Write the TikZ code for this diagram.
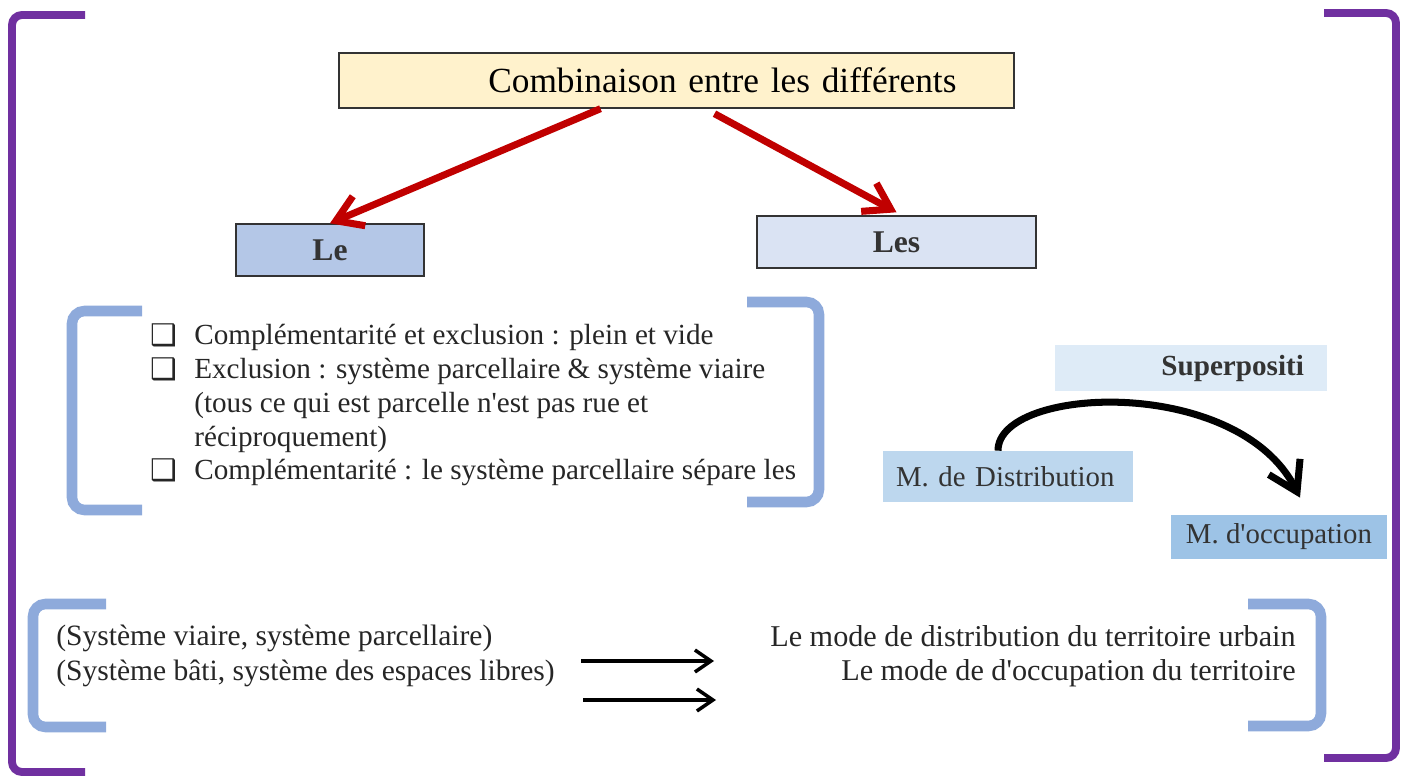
\documentclass[tikz,border=0pt]{standalone}
\usepackage{fontspec}
\setmainfont{Liberation Serif}[Ligatures=TeXOff]
\newfontfamily\symfont{DejaVu Sans}
\usetikzlibrary{arrows.meta,positioning,calc}
\definecolor{brakpurple}{HTML}{7030A0}
\definecolor{brakblue}{HTML}{8EAADB}
\definecolor{arrred}{HTML}{C00000}
\definecolor{topyellow}{HTML}{FFF2CC}
\definecolor{leblue}{HTML}{B4C7E7}
\definecolor{lesblue}{HTML}{DAE3F3}
\definecolor{supblue}{HTML}{DEEBF7}
\definecolor{distblue}{HTML}{BDD7EE}
\definecolor{occblue}{HTML}{9DC3E6}
\newcommand{\chkbox}{\makebox[0.88cm][l]{\symfont\fontsize{17}{17}\selectfont\raisebox{-0.5pt}{❑}}}

\begin{document}
\begin{tikzpicture}[x=0.02cm, y=-0.02cm,
  box/.style={rectangle, draw=black!80, line width=0.8pt, fill=#1, minimum height=1.04cm, align=center, font=\fontsize{18}{21}\selectfont\bfseries, text=black!80},
  tag/.style={rectangle, fill=#1, inner ysep=0pt, font=\fontsize{16.4}{19}\selectfont, text=black!80},
  txt/.style={inner sep=0pt, font=\fontsize{16.4}{19.2}\selectfont, text=black!85},
  pbrak/.style={line width=4.5pt, brakpurple, rounded corners=0.2cm},
  bbrak/.style={line width=6pt, brakblue, rounded corners=0.25cm},
  redarr/.style={-{Straight Barb[length=5mm, width=6.4mm]}, line width=4pt, arrred},
  blkarr/.style={-{Straight Barb[length=5.6mm, width=7mm]}, line width=4pt, black},
  thinarr/.style={-{Straight Barb[length=3.2mm, width=4.4mm]}, line width=2pt, black}
]
  \useasboundingbox (0,0) rectangle (1407,776);

  \draw[pbrak] (85,15) -- (12,15) -- (12,772) -- (85,772);
  \draw[pbrak] (1324,13) -- (1396,13) -- (1396,758) -- (1324,758);

  \node[box=topyellow, minimum width=13.5cm, minimum height=1.1cm, text width=11.2cm, inner xsep=1.15cm, align=right, font=\fontsize{20.1}{24}\selectfont\mdseries, text=black] (combi) at (676.5,80.5) {Combinaison entre les différents};
  \node[box=leblue, minimum width=3.76cm] (le) at (330,250) {Le};
  \node[box=lesblue, minimum width=5.58cm] (les) at (896.5,242) {Les};

  \draw[redarr] ([xshift=-1.52cm]combi.south) -- (le.north);
  \draw[redarr] ([xshift=0.76cm, yshift=-0.1cm]combi.south) -- ([yshift=0.06cm]les.north);

  \draw[bbrak] (142,311) -- (72,311) -- (72,510) -- (142,510);
  \draw[bbrak] (747,302) -- (819,302) -- (819,502) -- (747,502);
  \node[txt, anchor=west, align=left, font=\fontsize{16.6}{19.2}\selectfont] (list) at (150,405) {\chkbox Complémentarité et exclusion : plein et vide\\
    \chkbox Exclusion : système parcellaire \& système viaire\\
    \hspace*{0.88cm}(tous ce qui est parcelle n'est pas rue et\\
    \hspace*{0.88cm}réciproquement)\\
    \chkbox Complémentarité : le système parcellaire sépare les};

  \node[tag=supblue, minimum width=5.44cm, minimum height=0.92cm, text width=4.52cm, inner xsep=0.46cm, align=right, font=\fontsize{16.6}{19}\selectfont\bfseries] (sup) at (1191,368) {Superpositi};
  \node[tag=distblue, minimum height=1.02cm, text width=4.48cm, inner xsep=0.26cm, align=left] (dist) at (1008,476.5) {M. de Distribution};
  \node[tag=occblue, minimum width=4.32cm, minimum height=0.9cm] (occ) at (1279,537) {M. d'occupation};

  \draw[blkarr] ([xshift=-0.2cm]dist.north) .. controls +(0,-65) and +(-62,-123) .. ([xshift=0.42cm, yshift=0.33cm]occ.north);

  \draw[bbrak] (106,604) -- (33,604) -- (33,727) -- (106,727);
  \draw[bbrak] (1248,604) -- (1321,604) -- (1321,726) -- (1248,726);
  \node[txt, anchor=west, align=left, font=\fontsize{16.8}{19.6}\selectfont] (sysl) at (56,656) {(Système viaire, système parcellaire)\\(Système bâti, système des espaces libres)};
  \node[txt, anchor=east, align=right, font=\fontsize{17.2}{19.6}\selectfont] (sysr) at (1296,656) {Le mode de distribution du territoire urbain\\Le mode de d'occupation du territoire};

  \coordinate (a1) at (581,661);
  \coordinate (b1) at (714,661);
  \coordinate (a2) at (583,700);
  \coordinate (b2) at (716,700);
  \draw[thinarr] (a1) -- (b1);
  \draw[thinarr] (a2) -- (b2);
\end{tikzpicture}
\end{document}
